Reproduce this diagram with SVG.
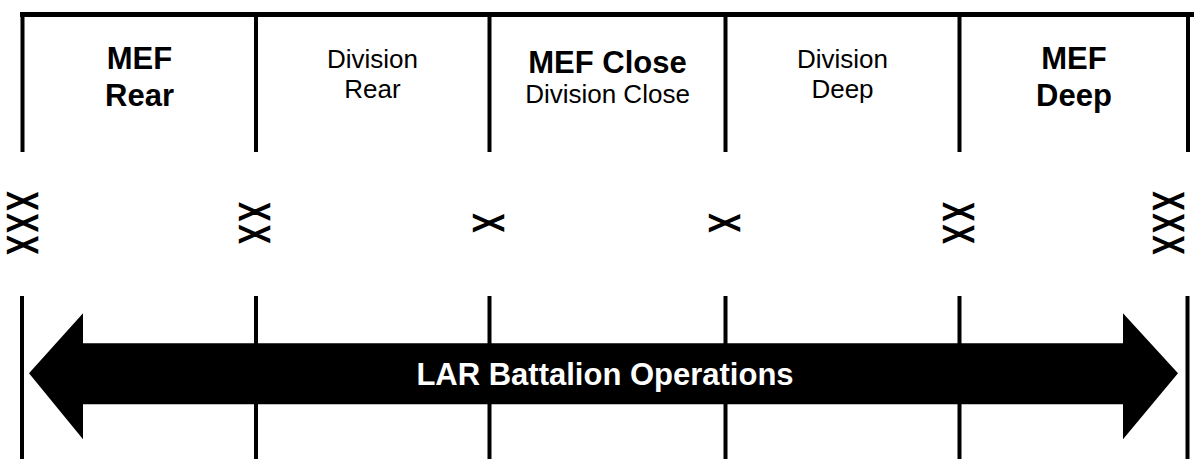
<svg xmlns="http://www.w3.org/2000/svg" width="1194" height="459" viewBox="0 0 1194 459">
<style>
.ln{stroke:#000;stroke-width:4;fill:none}
.top{stroke:#000;stroke-width:5;fill:none}
.b{font-family:"Liberation Sans",Arial,sans-serif;font-weight:bold;font-size:31px;text-anchor:middle;fill:#000}
.r{font-family:"Liberation Sans",Arial,sans-serif;font-size:26px;text-anchor:middle;fill:#000}
.x{font-family:"Liberation Sans",Arial,sans-serif;font-size:26px;text-anchor:middle;fill:#000;stroke:#000;stroke-width:1.4}
.lab{font-family:"Liberation Sans",Arial,sans-serif;font-weight:bold;font-size:31px;text-anchor:middle;fill:#fff}
</style>
<rect width="1194" height="459" fill="#fff"/>
<g id="frame">
<line class="top" x1="20" y1="14.5" x2="1194" y2="14.5"/>
<line class="ln" x1="22.5" y1="12" x2="22.5" y2="152"/>
<line class="ln" x1="256" y1="12" x2="256" y2="152"/>
<line class="ln" x1="489.5" y1="12" x2="489.5" y2="152"/>
<line class="ln" x1="725.5" y1="12" x2="725.5" y2="152"/>
<line class="ln" x1="959.5" y1="12" x2="959.5" y2="152"/>
<line class="ln" x1="1188" y1="12" x2="1188" y2="152"/>
</g>
<g id="connectors">
<line class="ln" x1="22" y1="296" x2="22" y2="459"/>
<line class="ln" x1="256" y1="296" x2="256" y2="459"/>
<line class="ln" x1="489.5" y1="296" x2="489.5" y2="459"/>
<line class="ln" x1="725.5" y1="296" x2="725.5" y2="459"/>
<line class="ln" x1="959.5" y1="296" x2="959.5" y2="459"/>
<line class="ln" x1="1187.5" y1="296" x2="1187.5" y2="459"/>
</g>
<g id="mef-rear"><text class="b" x="139.5" y="69">MEF</text><text class="b" x="139.5" y="106">Rear</text></g>
<g id="division-rear"><text class="r" x="372.5" y="68">Division</text><text class="r" x="372.5" y="98">Rear</text></g>
<g id="mef-close"><text class="b" x="607.5" y="73">MEF Close</text><text class="r" x="607.5" y="103">Division Close</text></g>
<g id="division-deep"><text class="r" x="842.5" y="68">Division</text><text class="r" x="842.5" y="98">Deep</text></g>
<g id="mef-deep"><text class="b" x="1074" y="69">MEF</text><text class="b" x="1074" y="106">Deep</text></g>
<g id="sym-xxx-left"><text class="x" transform="translate(23.5,223) rotate(90) scale(1,1.67)" y="9.3"><tspan x="-22">X</tspan><tspan x="0">X</tspan><tspan x="22">X</tspan></text></g>
<g id="sym-xx-1"><text class="x" transform="translate(256,223) rotate(90) scale(1,1.67)" y="9.3"><tspan x="-11.25">X</tspan><tspan x="11.25">X</tspan></text></g>
<g id="sym-x-1"><text class="x" transform="translate(489.5,223) rotate(90) scale(1,1.67)" y="9.3">X</text></g>
<g id="sym-x-2"><text class="x" transform="translate(725.5,223) rotate(90) scale(1,1.67)" y="9.3">X</text></g>
<g id="sym-xx-2"><text class="x" transform="translate(959.5,223) rotate(90) scale(1,1.67)" y="9.3"><tspan x="-11.25">X</tspan><tspan x="11.25">X</tspan></text></g>
<g id="sym-xxx-right"><text class="x" transform="translate(1169.5,223) rotate(90) scale(1,1.67)" y="9.3"><tspan x="-22">X</tspan><tspan x="0">X</tspan><tspan x="22">X</tspan></text></g>
<g id="lar-arrow">
<polygon points="29,373.3 83,313.3 83,343.3 1123,343.3 1123,313.3 1178,373.3 1123,439.3 1123,404.3 83,404.3 83,439.3" fill="#000"/>
<text class="lab" x="605" y="385">LAR Battalion Operations</text>
</g>
</svg>
